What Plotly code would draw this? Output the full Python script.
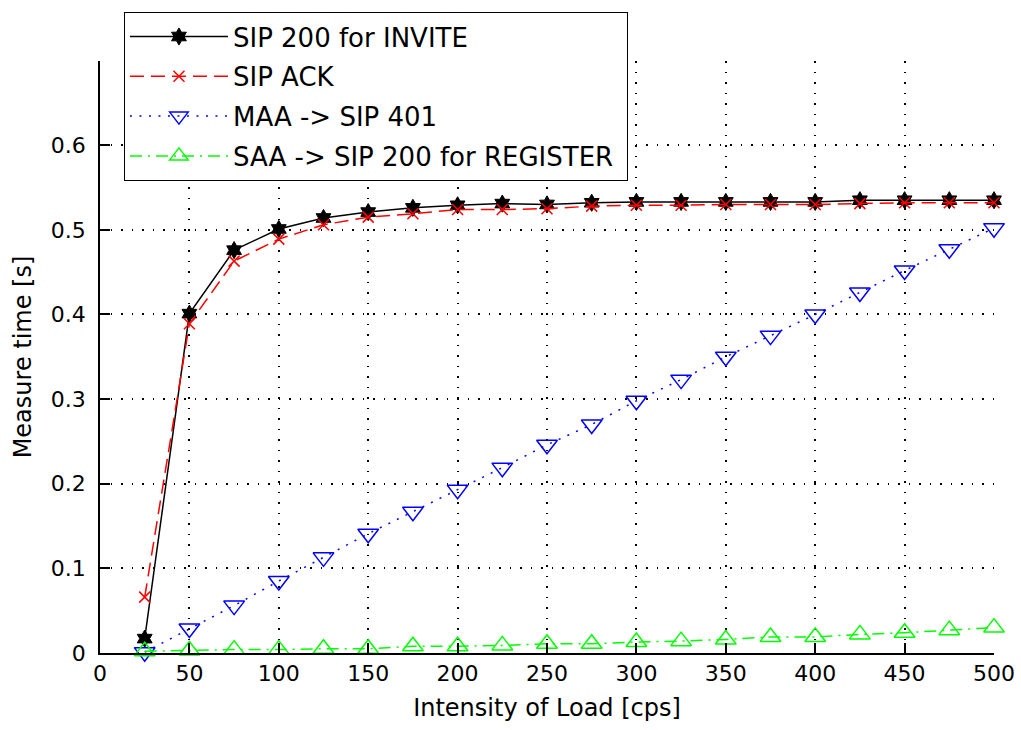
import plotly.graph_objects as go

load_cps = [25, 50, 75, 100, 125, 150, 175, 200, 225, 250,
            275, 300, 325, 350, 375, 400, 425, 450, 475, 500]

sip200_invite = [0.017, 0.401, 0.476, 0.501, 0.514, 0.521, 0.526, 0.529, 0.531, 0.530,
                 0.532, 0.533, 0.533, 0.533, 0.533, 0.533, 0.535, 0.535, 0.535, 0.535]
sip_ack = [0.066, 0.389, 0.463, 0.489, 0.506, 0.515, 0.519, 0.524, 0.524, 0.525,
           0.528, 0.529, 0.529, 0.530, 0.530, 0.530, 0.531, 0.532, 0.532, 0.532]
maa_sip401 = [0.001, 0.029, 0.056, 0.085, 0.113, 0.141, 0.167, 0.193, 0.219, 0.246,
              0.270, 0.298, 0.323, 0.350, 0.375, 0.400, 0.426, 0.452, 0.477, 0.502]
saa_sip200_reg = [0.002, 0.003, 0.004, 0.004, 0.005, 0.005, 0.008, 0.008, 0.009, 0.011,
                  0.011, 0.013, 0.014, 0.016, 0.019, 0.019, 0.022, 0.024, 0.027, 0.030]

names = ["SIP 200 for INVITE", "SIP ACK", "MAA -> SIP 401", "SAA -> SIP 200 for REGISTER\u00a0"]

x_ticks = [0, 50, 100, 150, 200, 250, 300, 350, 400, 450, 500]
y_ticks = [0, 0.1, 0.2, 0.3, 0.4, 0.5, 0.6]
y_tick_text = ["0", "0.1", "0.2", "0.3", "0.4", "0.5", "0.6"]

FONT = "DejaVu Sans"

fig = go.Figure()
fig.add_trace(go.Scatter(
    x=load_cps, y=sip200_invite, name=names[0], mode="lines+markers", legendgroup="a",
    line=dict(color="black", width=1.5),
    marker=dict(symbol="hexagram", size=13, color="black", line=dict(color="black", width=1)),
    cliponaxis=False))
fig.add_trace(go.Scatter(
    x=load_cps, y=sip_ack, name=names[1], mode="lines+markers", legendgroup="b",
    line=dict(color="#ff0000", width=1.5, dash="14px,7px"),
    marker=dict(symbol="x-thin-open", size=11, color="#ff0000", line=dict(color="#ff0000", width=1.5)),
    cliponaxis=False))
fig.add_trace(go.Scatter(
    x=load_cps, y=maa_sip401, name=names[2], mode="lines+markers", legendgroup="c",
    line=dict(color="#0000ff", width=1.5, dash="2px,7.5px"),
    marker=dict(symbol="triangle-down-open", size=18, color="#0000ff", line=dict(color="#0000ff", width=1.5)),
    cliponaxis=False))
fig.add_trace(go.Scatter(
    x=load_cps, y=saa_sip200_reg, name=names[3], mode="lines+markers", legendgroup="d",
    line=dict(color="#00ff00", width=1.5, dash="12px,6px,2px,6px"),
    marker=dict(symbol="triangle-up-open", size=18, color="#00ff00", line=dict(color="#00ff00", width=1.5)),
    cliponaxis=False))

fig.update_layout(
    width=1021, height=730,
    paper_bgcolor="white", plot_bgcolor="white",
    margin=dict(l=100, r=27, t=57.5, b=76.5),
    font=dict(family=FONT, size=22, color="black"),
    showlegend=True,
    legend=dict(
        x=0.0268, y=1.0826, xanchor="left", yanchor="top",
        bgcolor="white", bordercolor="black", borderwidth=1,
        font=dict(family=FONT, size=26, color="black"),
        itemwidth=98, tracegroupgap=3,
    ),
)
fig.update_xaxes(
    range=[0, 500], tickvals=x_ticks, ticktext=[str(v) for v in x_ticks],
    ticks="inside", ticklen=10, tickwidth=1.5, tickcolor="black",
    showline=True, linecolor="black", linewidth=1.5,
    showgrid=True, gridcolor="black", gridwidth=1.5, griddash="1.5px,9px",
    zeroline=False, automargin=False,
    tickfont=dict(family=FONT, size=22),
    title=dict(text="Intensity of Load [cps]", font=dict(family=FONT, size=24), standoff=14),
)
fig.update_yaxes(
    range=[0, 0.6995], tickvals=y_ticks, ticktext=y_tick_text,
    ticks="inside", ticklen=10, tickwidth=1.5, tickcolor="black",
    showline=True, linecolor="black", linewidth=1.5,
    showgrid=True, gridcolor="black", gridwidth=1.5, griddash="1.5px,9px",
    zeroline=False, ticklabelstandoff=8, automargin=False,
    tickfont=dict(family=FONT, size=22),
    title=dict(text="Measure time [s]", font=dict(family=FONT, size=24), standoff=12),
)

fig.write_html("out.html")
